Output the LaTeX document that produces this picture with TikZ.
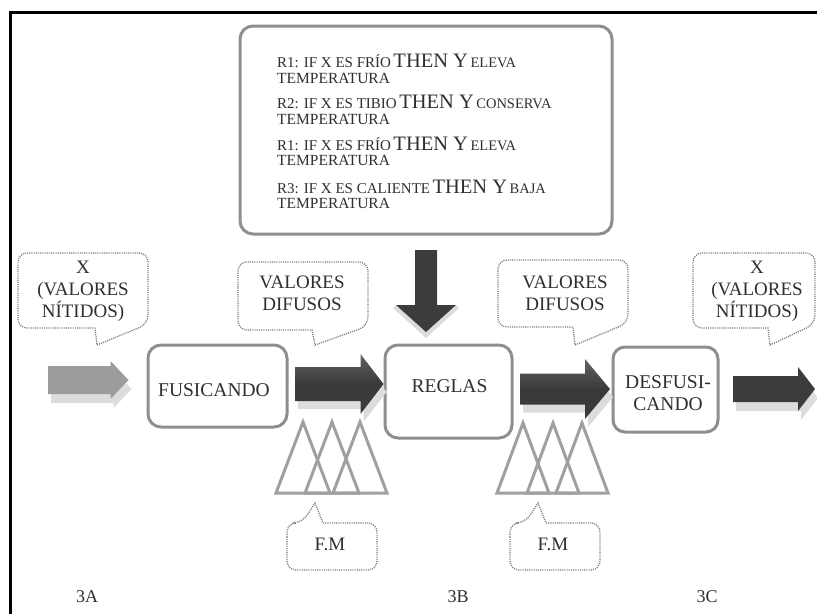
\documentclass[tikz,border=0pt]{standalone}
\usepackage{fontspec}
\setmainfont{Liberation Serif}
\usetikzlibrary{calc}

\definecolor{boxgray}{HTML}{8E8E8E}
\definecolor{txt}{HTML}{2F2F2F}
\definecolor{darkarrow}{HTML}{3C3C3C}
\definecolor{lightarrow}{HTML}{9C9C9C}
\definecolor{paleshadow}{HTML}{DCDCDC}
\definecolor{trigray}{HTML}{A0A0A0}
\definecolor{dotgray}{HTML}{7C7C7C}

% sized text helper
\newcommand\fsz[2]{{\fontsize{#1}{#1}\selectfont #2}}
% one fuzzy rule: antecedent, consequent
\newcommand\ruleline[2]{\fsz{15}{#1} \fsz{20.5}{THEN Y} \fsz{14.5}{#2}}
% horizontal block arrow: style, tail, tip, shaft half height, head half height, head length
\newcommand\harrow[6]{%
  \path[#1] ($(#2)+(0,-#4)$) -- ($(#3)+(-#6,-#4)$) -- ($(#3)+(-#6,-#5)$) -- (#3)
    -- ($(#3)+(-#6,#5)$) -- ($(#3)+(-#6,#4)$) -- ($(#2)+(0,#4)$) -- cycle;}

\begin{document}
\begin{tikzpicture}[x=1pt,y=-1pt,
  box/.style={draw=boxgray, line width=3pt, rounded corners=13pt, fill=white},
  boxtext/.style={text=txt, font=\fontsize{19.5}{22}\selectfont, align=center, inner sep=0pt},
  rtext/.style={text=txt, inner sep=0pt, anchor=base west},
  ctext/.style={text=txt, font=\fontsize{19}{22}\selectfont, align=center, inner sep=0pt},
  callout/.style={draw=dotgray, line width=1.3pt, dash pattern=on 1.1pt off 1.1pt},
  tri/.style={draw=trigray, line width=3pt, line join=miter},
  steplabel/.style={text=txt, font=\fontsize{18}{18}\selectfont, inner sep=0pt}]

\useasboundingbox (0,0) rectangle (817,614);
\fill[white] (0,0) rectangle (817,614);

% frame
\draw[line width=3pt, line join=miter] (10,614) -- (10,12) -- (817,12);

% rule base
\node[box, minimum width=372pt, minimum height=208pt] (rules) at (426,130) {};
\node[rtext] (r1) at (277,67) {\ruleline{R1: IF X ES FRÍO}{ELEVA}};
\node[rtext] (t1) at (277,83) {\fsz{15.5}{TEMPERATURA}};
\node[rtext] (r2) at (277,108) {\ruleline{R2: IF X ES TIBIO}{CONSERVA}};
\node[rtext] (t2) at (277,124) {\fsz{15.5}{TEMPERATURA}};
\node[rtext] (r3) at (277,150) {\ruleline{R1: IF X ES FRÍO}{ELEVA}};
\node[rtext] (t3) at (277,165) {\fsz{15.5}{TEMPERATURA}};
\node[rtext] (r4) at (277,193) {\ruleline{R3: IF X ES CALIENTE}{BAJA}};
\node[rtext] (t4) at (277,208) {\fsz{15.5}{TEMPERATURA}};

% processing blocks
\node[box, minimum width=139pt, minimum height=82pt] (fus) at (217.5,386) {};
\node[boxtext] (fuslabel) at (214,390) {FUSICANDO};
\node[box, minimum width=127pt, minimum height=93pt] (reg) at (448.5,391.5) {};
\node[boxtext] (reglabel) at (449.5,386) {REGLAS};
\node[box, minimum width=105pt, minimum height=85pt, rounded corners=12pt] (des) at (665.5,389.5) {};
\node[boxtext] (deslabel) at (668,393) {DESFUSI-\\CANDO};

% arrow anchors
\coordinate (ainT) at (48,380);
\coordinate (ainH) at (fus.west |- ainT);
\coordinate (a1T) at (295,384);
\coordinate (a1H) at (reg.west |- a1T);
\coordinate (a2T) at (520,389);
\coordinate (a2H) at (610,389);
\coordinate (aoutT) at (733,389);
\coordinate (aoutH) at (815,389);
\coordinate (dT) at (rules.south |- 0,250);
\coordinate (dH) at (rules.south |- 0,332);

% pale reflections under the arrows
\harrow{fill=paleshadow, transform canvas={shift={(3,9)}}}{ainT}{$(ainH)+(-18,0)$}{14}{19}{18}
\harrow{fill=paleshadow, transform canvas={shift={(3,8)}}}{a1T}{a1H}{17}{30}{23}
\harrow{fill=paleshadow, transform canvas={shift={(3,8)}}}{a2T}{a2H}{15.5}{30}{25}
\harrow{fill=paleshadow, transform canvas={shift={(3,9)}}}{aoutT}{aoutH}{13}{22}{17}

% block arrows
\harrow{fill=lightarrow}{ainT}{$(ainH)+(-18,0)$}{14}{19}{18}
\harrow{top color=darkarrow!80, bottom color=darkarrow, middle color=darkarrow!95!black}{a1T}{a1H}{17}{30}{23}
\harrow{top color=darkarrow!80, bottom color=darkarrow, middle color=darkarrow!95!black}{a2T}{a2H}{15.5}{30}{25}
\harrow{fill=darkarrow}{aoutT}{aoutH}{13}{22}{17}

% arrow from the rule base
\path[fill=paleshadow] ($(dH)+(-33,-24)$) -- ($(dH)+(0,6)$) -- ($(dH)+(33,-24)$) -- ($(dH)+(30,-27)$) -- (dH) -- ($(dH)+(-30,-27)$) -- cycle;
\path[fill=darkarrow] ($(dT)+(-11,0)$) -- ($(dH)+(-11,-27)$) -- ($(dH)+(-30,-27)$) -- (dH)
  -- ($(dH)+(30,-27)$) -- ($(dH)+(11,-27)$) -- ($(dT)+(11,0)$) -- cycle;

% membership functions
\foreach \ax in {303,332,360}
  \draw[tri] (\ax,422) -- ++(27,71) -- ++(-54,0) -- cycle;
\foreach \ax in {523,553,582}
  \draw[tri] (\ax,423) -- ++(26,70) -- ++(-52,0) -- cycle;

% callouts
\draw[callout] (18,290) [rounded corners=9pt] -- (18,253) -- (148,253) -- (148,324)
  [sharp corners] -- (97,345) -- (95,328) [rounded corners=9pt] -- (18,328) -- cycle;
\node[ctext] (xin) at (83,291) {X\\(VALORES\\NÍTIDOS)};

\draw[callout] (238,296) [rounded corners=9pt] -- (238,262) -- (368,262) -- (368,326)
  [sharp corners] -- (315,345) -- (312,330) [rounded corners=9pt] -- (238,330) -- cycle;
\node[ctext] (dif1) at (302,293) {VALORES\\DIFUSOS};

\draw[callout] (498,294) [rounded corners=9pt] -- (498,260) -- (628,260) -- (628,323)
  [sharp corners] -- (575,345) -- (573,327) [rounded corners=9pt] -- (498,327) -- cycle;
\node[ctext] (dif2) at (565,293) {VALORES\\DIFUSOS};

\draw[callout] (693,290) [rounded corners=9pt] -- (693,253) -- (815,253) -- (815,324)
  [sharp corners] -- (770,345) -- (768,328) [rounded corners=9pt] -- (693,328) -- cycle;
\node[ctext] (xout) at (757,291) {X\\(VALORES\\NÍTIDOS)};

\draw[callout] (287,546) [rounded corners=9pt] -- (287,523) -- (302,523)
  [sharp corners] -- (315,503) -- (323,523) [rounded corners=9pt] -- (377,523) -- (377,570) -- (287,570) -- cycle;
\node[ctext] (fm1) at (330,544) {F.M};

\draw[callout] (510,546) [rounded corners=9pt] -- (510,523) -- (525,523)
  [sharp corners] -- (538,503) -- (546,523) [rounded corners=9pt] -- (600,523) -- (600,570) -- (510,570) -- cycle;
\node[ctext] (fm2) at (553,544) {F.M};

% stage labels
\node[steplabel] (s3a) at (87,597) {3A};
\node[steplabel] (s3b) at (458,597) {3B};
\node[steplabel] (s3c) at (707,597) {3C};
\end{tikzpicture}
\end{document}
